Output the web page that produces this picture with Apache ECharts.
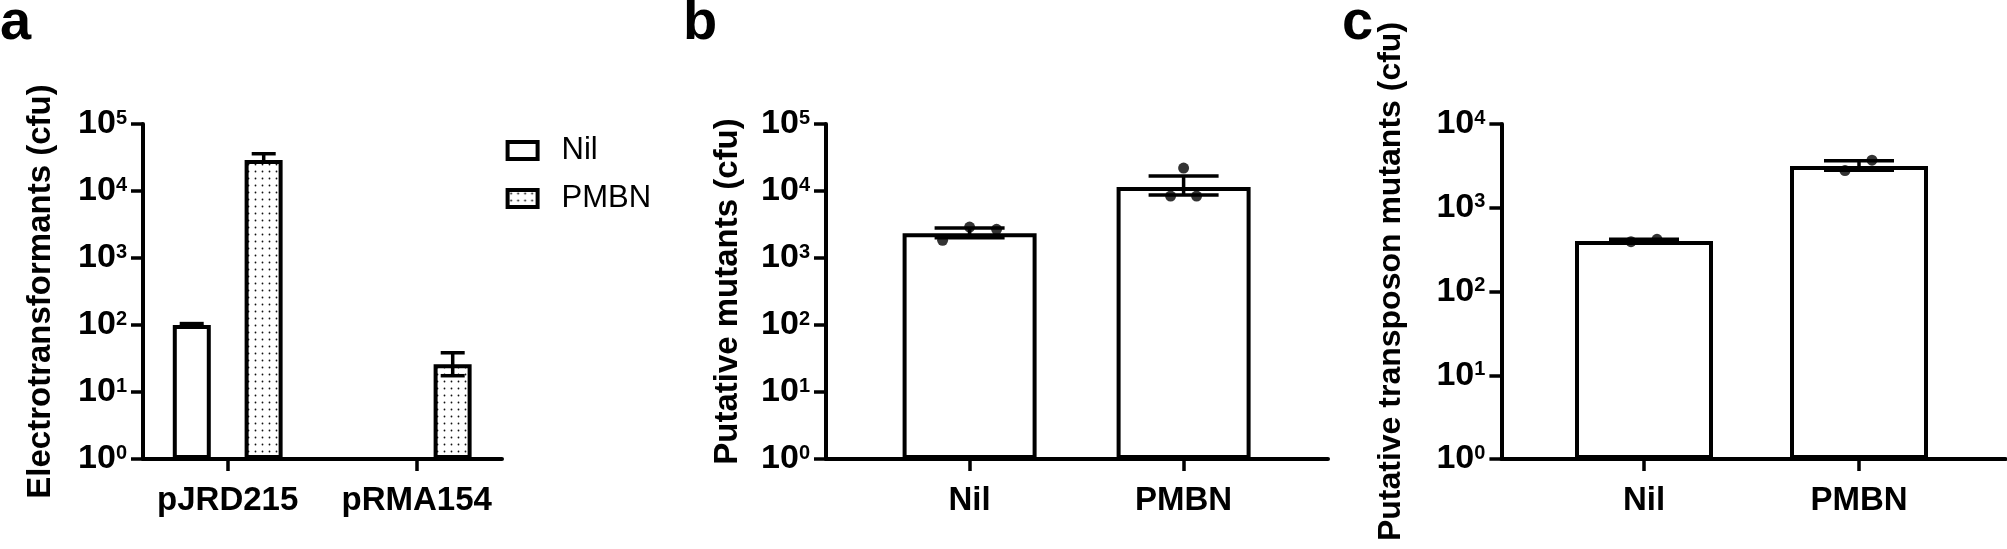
<!DOCTYPE html>
<html>
<head>
<meta charset="utf-8">
<script src="https://cdn.jsdelivr.net/npm/echarts@6.0.0/dist/echarts.min.js"></script>
<style>
  html, body { margin: 0; padding: 0; background: #fff; }
  #chart { width: 2007px; height: 549px; }
</style>
</head>
<body>
<div id="chart"></div>
<script>
// panel a: electrotransformants
const aCats = ['pJRD215', 'pRMA154'];
const aNil = [100, null];
const aNilLow = [95, null];
const aNilHigh = [105, null];
const aPmbn = [29000, 26];
const aPmbnLow = [27000, 17.5];
const aPmbnHigh = [36000, 38.5];

// panel b: putative mutants
const bCats = ['Nil', 'PMBN'];
const bMean = [2350, 11500];
const bLow = [2000, 8700];
const bHigh = [2800, 16700];
const bNilPts = [1840, 2900, 2680];
const bPmbnPts = [22000, 8400, 8400];

// panel c: putative transposon mutants
const cCats = ['Nil', 'PMBN'];
const cMean = [400, 3150];
const cLow = [392, 2800];
const cHigh = [420, 3650];
const cNilPts = [394, 420];
const cPmbnPts = [2780, 3700];

// tick label exponents (10^n)
const expAB = ['0', '1', '2', '3', '4', '5'];
const expC = ['0', '1', '2', '3', '4'];

const FONT = 'Liberation Sans';
const TOP = 124, H = 335;

// dotted fill like the prism pattern
function dots() {
  const c = document.createElement('canvas');
  c.width = 7; c.height = 7;
  const g = c.getContext('2d');
  g.fillStyle = '#fff';
  g.fillRect(0, 0, 7, 7);
  g.fillStyle = '#111';
  g.beginPath();
  g.arc(3.5, 3.5, 0.9, 0, Math.PI * 2);
  g.fill();
  return c;
}
const dotFill = { image: dots(), repeat: 'repeat' };

function mkGrid(left, width) {
  return { left: left, top: TOP, width: width, height: H, containLabel: false, outerBoundsMode: 'none' };
}

function frameX(gi) {
  return {
    gridIndex: gi, type: 'value', min: 0, max: 1,
    axisLine: { show: true, onZero: false, lineStyle: { color: '#000', width: 4 } },
    axisTick: { show: false }, axisLabel: { show: false }, splitLine: { show: false }
  };
}

function frameY(gi, max, exps, name, gap, size, pad) {
  return {
    gridIndex: gi, type: 'log', logBase: 10, min: 1, max: max, splitNumber: exps.length - 1,
    name: name, nameLocation: 'middle', nameGap: gap,
    nameTextStyle: { fontFamily: FONT, fontWeight: 'bold', fontSize: size, color: '#000', padding: pad },
    axisLine: { show: true, onZero: false, lineStyle: { color: '#000', width: 4 } },
    axisTick: { show: true, length: 12, lineStyle: { color: '#000', width: 3.5 } },
    splitLine: { show: false },
    axisLabel: {
      margin: 16,
      formatter: (v, i) => '{b|10}{s|' + exps[i] + '}',
      rich: {
        b: { fontFamily: FONT, fontWeight: 'bold', fontSize: 34, color: '#000', lineHeight: 32 },
        s: { fontFamily: FONT, fontWeight: 'bold', fontSize: 20, color: '#000', lineHeight: 32, verticalAlign: 'top' }
      }
    }
  };
}

function dataX(gi, cats) {
  return {
    gridIndex: gi, type: 'category', data: cats,
    axisLine: { show: false },
    axisTick: { show: true, alignWithLabel: true, length: 12, lineStyle: { color: '#000', width: 3.5 } },
    axisLabel: { interval: 0, margin: 25, fontFamily: FONT, fontWeight: 'bold', fontSize: 33, color: '#000' }
  };
}

function dataY(gi, max) {
  return { gridIndex: gi, type: 'log', min: 1, max: max, show: false };
}

// error bars: vertical stem with two caps, shifted by dx for grouped bars
function errSeries(axis, low, high, capW, dx) {
  const data = [];
  low.forEach((l, i) => { if (l != null) data.push([i, l, high[i]]); });
  return {
    type: 'custom', xAxisIndex: axis, yAxisIndex: axis, z: 4,
    encode: { x: 0, y: [1, 2] },
    data: data,
    renderItem: function (params, api) {
      const lo = api.coord([api.value(0), api.value(1)]);
      const hi = api.coord([api.value(0), api.value(2)]);
      const cx = lo[0] + dx;
      const st = { stroke: '#000', lineWidth: 3.5 };
      return {
        type: 'group',
        children: [
          { type: 'line', shape: { x1: cx, y1: lo[1], x2: cx, y2: hi[1] }, style: st },
          { type: 'line', shape: { x1: cx - capW / 2, y1: hi[1], x2: cx + capW / 2, y2: hi[1] }, style: st },
          { type: 'line', shape: { x1: cx - capW / 2, y1: lo[1], x2: cx + capW / 2, y2: lo[1] }, style: st }
        ]
      };
    }
  };
}

function ptSeries(axis, groups, offs) {
  const data = [];
  groups.forEach((vals, cat) => {
    vals.forEach((v, k) => data.push({ value: [cat, v], symbolOffset: [offs[cat][k], 0] }));
  });
  return {
    type: 'scatter', xAxisIndex: axis, yAxisIndex: axis, z: 5,
    symbol: 'circle', symbolSize: 11,
    itemStyle: { color: '#000' },
    data: data
  };
}

const plainBar = { color: '#fff', borderColor: '#000', borderWidth: 4 };
const letterFont = 'bold 56px "Liberation Sans"';

const chart = echarts.init(document.getElementById('chart'));
chart.setOption({
  animation: false,
  backgroundColor: '#fff',
  grid: [
    mkGrid(143, 359), mkGrid(133.2, 378),
    mkGrid(826, 502), mkGrid(862.6, 428),
    mkGrid(1501.4, 504), mkGrid(1536.5, 430)
  ],
  xAxis: [frameX(0), dataX(1, aCats), frameX(2), dataX(3, bCats), frameX(4), dataX(5, cCats)],
  yAxis: [
    frameY(0, 1e5, expAB, 'Electrotransformants (cfu)', 86, 33, 0),
    dataY(1, 1e5),
    frameY(2, 1e5, expAB, 'Putative mutants (cfu)', 82, 33, 0),
    dataY(3, 1e5),
    frameY(4, 1e4, expC, 'Putative transposon mutants (cfu)', 94, 32, [0, 0, 0, 20]),
    dataY(5, 1e4)
  ],
  legend: {
    data: ['Nil', 'PMBN'], orient: 'vertical', left: 505.6, top: 135, padding: 0,
    icon: 'rect', itemWidth: 30, itemHeight: 17, itemGap: 17, selectedMode: false,
    itemStyle: { borderColor: '#000', borderWidth: 4 },
    textStyle: { fontFamily: FONT, fontSize: 31, color: '#000', lineHeight: 30, padding: [0, 0, 0, 19] }
  },
  graphic: [
    { type: 'text', x: 0, y: -4, style: { text: 'a', font: letterFont, fill: '#000', verticalAlign: 'top' } },
    { type: 'text', x: 683, y: -4, style: { text: 'b', font: letterFont, fill: '#000', verticalAlign: 'top' } },
    { type: 'text', x: 1342, y: -4, style: { text: 'c', font: letterFont, fill: '#000', verticalAlign: 'top' } }
  ],
  series: [
    { type: 'bar', name: 'Nil', xAxisIndex: 1, yAxisIndex: 1, data: aNil, barWidth: 38, barGap: '89%', itemStyle: plainBar },
    { type: 'bar', name: 'PMBN', xAxisIndex: 1, yAxisIndex: 1, data: aPmbn, barWidth: 38, barGap: '89%',
      itemStyle: { color: dotFill, borderColor: '#000', borderWidth: 4 } },
    errSeries(1, aNilLow, aNilHigh, 24, -36),
    errSeries(1, aPmbnLow, aPmbnHigh, 24, 36),

    { type: 'bar', xAxisIndex: 3, yAxisIndex: 3, data: bMean, barWidth: 134, itemStyle: plainBar },
    errSeries(3, bLow, bHigh, 70, 0),
    ptSeries(3, [bNilPts, bPmbnPts], [[-27, 0, 27], [0, -13, 13]]),

    { type: 'bar', xAxisIndex: 5, yAxisIndex: 5, data: cMean, barWidth: 138, itemStyle: plainBar },
    errSeries(5, cLow, cHigh, 70, 0),
    ptSeries(5, [cNilPts, cPmbnPts], [[-13, 13], [-14, 13]])
  ]
});
</script>
</body>
</html>
